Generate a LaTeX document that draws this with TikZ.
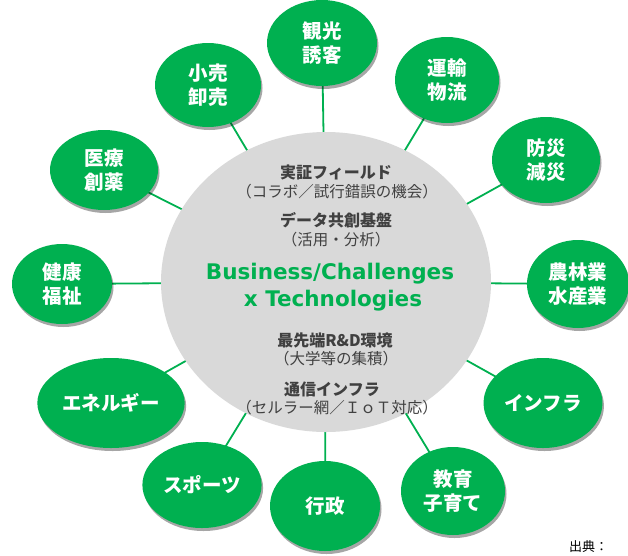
\documentclass[tikz,border=0pt]{standalone}
\usepackage{fontspec}
\newfontfamily\jp{Noto Sans CJK JP}
\newfontfamily\lat{DejaVu Sans}
\usetikzlibrary{shadows}
\definecolor{vgreen}{HTML}{00B050}
\definecolor{cgray}{HTML}{D9D9D9}
\definecolor{dtext}{HTML}{404040}
\tikzset{
  bubble/.style={ellipse shape, fill=vgreen, text=white, align=center,
    font={\jp\bfseries\fontsize{19.5}{23.5}\selectfont},
    drop shadow={shadow xshift=1.5pt, shadow yshift=-3pt, opacity=0.35, fill=black}},
  ellipse shape/.style={shape=ellipse},
  link/.style={draw=vgreen, line width=1.8pt},
  headline/.style={text=dtext, font={\jp\bfseries\fontsize{16}{18}\selectfont}},
  subline/.style={text=dtext, font={\jp\fontsize{15.5}{18}\selectfont}},
  bigline/.style={text=vgreen, font={\lat\bfseries\fontsize{21.5}{24}\selectfont}}
}
\usetikzlibrary{shapes.geometric}
\begin{document}
\begin{tikzpicture}[x=1pt,y=-1pt]
\useasboundingbox (0,0) rectangle (628,555);
\clip (0,0) rectangle (628,555);
% hub
\coordinate (hubc) at (326,282);
% bubble centres
\coordinate (c1) at (322,43);
\coordinate (c2) at (447,80);
\coordinate (c3) at (546,160);
\coordinate (c4) at (578,284);
\coordinate (c5) at (543,403);
\coordinate (c6) at (453,491);
\coordinate (c7) at (325,506);
\coordinate (c8) at (202,485);
\coordinate (c9) at (111,403);
\coordinate (c10) at (62,284);
\coordinate (c11) at (104,170);
\coordinate (c12) at (208,85);
% connectors (behind)
\foreach \i in {1,...,12} \draw[link] (hubc) -- (c\i);
% hub ellipse
\fill[cgray] (hubc) ellipse [x radius=165, y radius=150];
\node[draw=none] (hub) at (hubc) {};
% bubbles
\node[bubble, minimum width=110pt, minimum height=86pt] (kanko) at (c1) {観光\\誘客};
\node[bubble, minimum width=104pt, minimum height=86pt] (unyu) at (c2) {運輸\\物流};
\node[bubble, minimum width=108pt, minimum height=86pt] (bosai) at (c3) {防災\\減災};
\node[bubble, minimum width=102pt, minimum height=88pt] (norin) at (c4) {農林業\\水産業};
\node[bubble, minimum width=110pt, minimum height=90pt] (infra) at (c5) {インフラ};
\node[bubble, minimum width=104pt, minimum height=88pt] (kyoiku) at (c6) {教育\\子育て};
\node[bubble, minimum width=110pt, minimum height=90pt] (gyosei) at (c7) {行政};
\node[bubble, minimum width=108pt, minimum height=86pt] (sports) at (c8) {スポーツ};
\node[bubble, minimum width=108pt, minimum height=90pt] (energy) at (c9) {エネルギー};
\node[bubble, minimum width=100pt, minimum height=80pt] (kenko) at (c10) {健康\\福祉};
\node[bubble, minimum width=108pt, minimum height=80pt] (iryo) at (c11) {医療\\創薬};
\node[bubble, minimum width=106pt, minimum height=84pt] (kouri) at (c12) {小売\\卸売};
% hub texts
\node[headline] (t1) at (336,172) {実証フィールド};
\node[subline] (t2) at (337,192) {（コラボ／試行錯誤の機会）};
\node[headline] (t3) at (336,220) {データ共創基盤};
\node[subline] (t4) at (336,240) {（活用・分析）};
\node[bigline] (t5) at (330,274) {Business/Challenges};
\node[bigline] (t6) at (333,301) {x Technologies};
\node[headline] (t7) at (335,340) {最先端R\&D環境};
\node[subline] (t8) at (336,359) {（大学等の集積）};
\node[headline] (t9) at (332,389) {通信インフラ};
\node[subline] (t10) at (337,408) {（セルラー網／ＩｏＴ対応）};
% source
\node[anchor=west, text=black, inner sep=0pt, font={\jp\fontsize{13}{15}\selectfont}] (src) at (569,547) {出典：};
\end{tikzpicture}
\end{document}
